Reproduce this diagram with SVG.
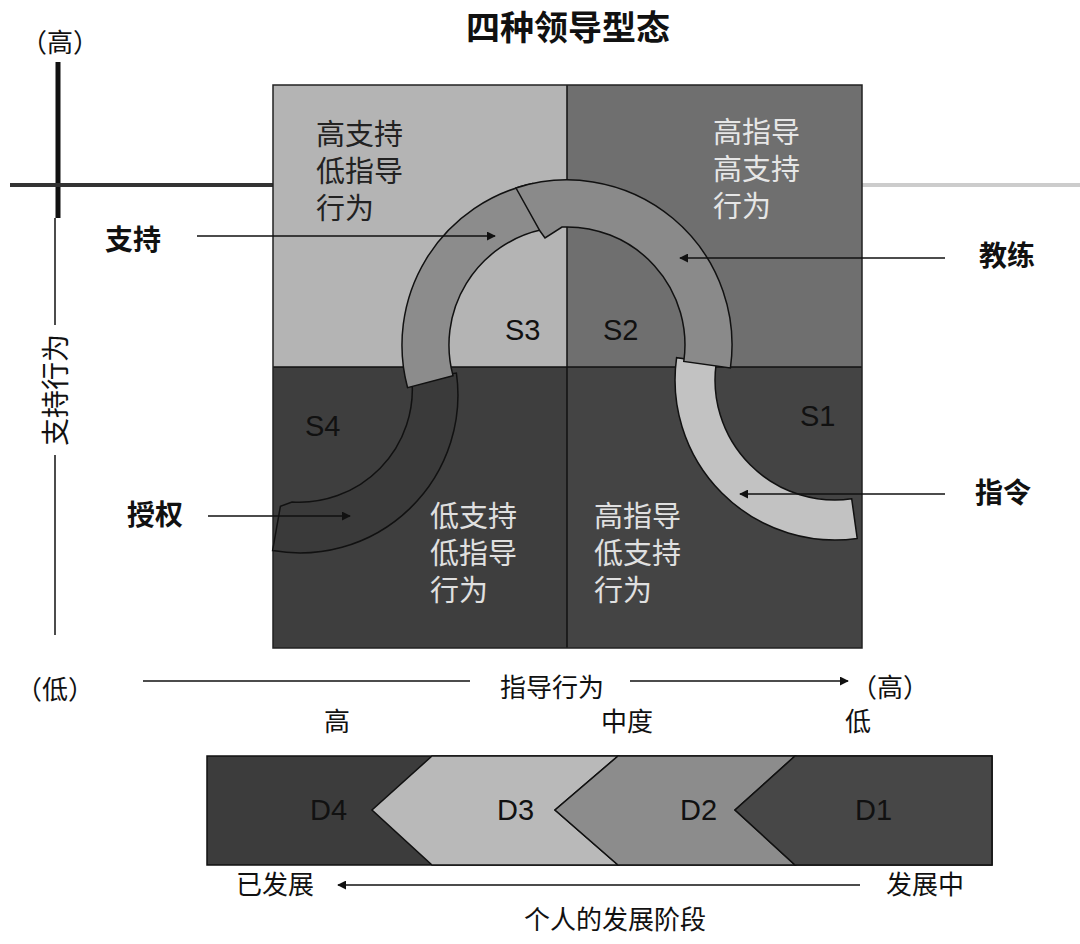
<svg xmlns="http://www.w3.org/2000/svg" width="1080" height="944" viewBox="0 0 1080 944">
<defs>
<marker id="ah" viewBox="0 0 10 10" refX="9" refY="5" markerWidth="9" markerHeight="9" markerUnits="userSpaceOnUse" orient="auto"><path d="M0,0L10,5L0,10Z" fill="#111"/></marker>
<style>
.cj{font-family:"Noto Sans CJK SC","Noto Sans",sans-serif}
.lb{font-family:"Noto Sans CJK SC",sans-serif;font-size:28px;font-weight:bold;fill:#111}
.vt{font-family:"Noto Sans CJK SC",sans-serif;font-size:28px;fill:#111}
.q{font-family:"Noto Sans CJK SC",sans-serif;font-size:29px}
.s{font-family:"Liberation Sans",Arial,sans-serif;font-size:29px;fill:#111}
.ax{font-family:"Noto Sans CJK SC",sans-serif;font-size:26px;fill:#111}
.ln{stroke:#111;stroke-width:1.5;fill:none}
.arc{stroke:#111;stroke-width:1.5}
</style>
</defs>
<rect width="1080" height="944" fill="#fff"/>
<text x="568" y="40" text-anchor="middle" class="cj" font-size="34" font-weight="bold" fill="#111">四种领导型态</text>
<text x="60" y="52" text-anchor="middle" class="ax" font-size="22">（高）</text>
<g id="axes">
<line x1="58" y1="62" x2="58" y2="218" stroke="#111" stroke-width="5"/>
<line x1="10" y1="185" x2="273" y2="185" stroke="#333" stroke-width="4"/>
<line x1="862" y1="185" x2="1080" y2="185" stroke="#ccc" stroke-width="4"/>
<line x1="55" y1="218" x2="55" y2="635" stroke="#111" stroke-width="1.5"/>
<rect x="38" y="325" width="34" height="130" fill="#fff"/>
<text transform="translate(66,390) rotate(-90)" text-anchor="middle" class="vt">支持行为</text>
</g>
<g id="quadrants">
<rect x="273" y="85" width="294" height="282" fill="#b4b4b4"/>
<rect x="567" y="85" width="295" height="282" fill="#6f6f6f"/>
<rect x="273" y="367" width="294" height="281" fill="#3e3e3e"/>
<rect x="567" y="367" width="295" height="281" fill="#444"/>
<line x1="567" y1="85" x2="567" y2="648" stroke="#111" stroke-width="1.5"/>
<line x1="273" y1="367" x2="862" y2="367" stroke="#111" stroke-width="1.5"/>
<rect x="273" y="85" width="589" height="563" fill="none" stroke="#222" stroke-width="1.5"/>
</g>
<g id="S4arc"><path class="arc" fill="#3a3a3a" d="M456.4,373 A158,158 0 0 1 272.6,550.6 L280.4,506.3 L292,502 A113,113 0 0 0 411.9,379.3 Z"/></g>
<g id="S1arc"><path class="arc" fill="#c2c2c2" d="M676.6,357.7 A160,160 0 0 0 857.2,538.4 L851.7,498.8 A120,120 0 0 1 716.2,363.3 Z"/></g>
<g id="S3arc"><path class="arc" fill="#8c8c8c" d="M407.6,387.7 A165,165 0 0 1 532.7,183.6 L542.5,229.6 A118,118 0 0 0 453,375.6 Z"/></g>
<g id="S2arc"><path class="arc" fill="#8a8a8a" d="M516,188 A165,165 0 0 1 730.4,368 L683.8,361.4 A118,118 0 0 0 562,227 L545,238 L540,231 Z"/></g>
<g id="qtext">
<text class="q" fill="#222"><tspan x="316" y="145">高支持</tspan><tspan x="316" y="182">低指导</tspan><tspan x="316" y="219">行为</tspan></text>
<text class="q" fill="#e6e6e6"><tspan x="713" y="143">高指导</tspan><tspan x="713" y="180">高支持</tspan><tspan x="713" y="217">行为</tspan></text>
<text class="q" fill="#e0e0e0"><tspan x="430" y="527">低支持</tspan><tspan x="430" y="564">低指导</tspan><tspan x="430" y="601">行为</tspan></text>
<text class="q" fill="#e0e0e0"><tspan x="594" y="527">高指导</tspan><tspan x="594" y="564">低支持</tspan><tspan x="594" y="601">行为</tspan></text>
<text class="s" x="505" y="340">S3</text>
<text class="s" x="603" y="340">S2</text>
<text class="s" x="305" y="436">S4</text>
<text class="s" x="800" y="426">S1</text>
</g>
<g id="connectors">
<line class="ln" x1="197" y1="236" x2="495" y2="236" marker-end="url(#ah)"/>
<line class="ln" x1="945" y1="258" x2="680" y2="258" marker-end="url(#ah)"/>
<line class="ln" x1="208" y1="516" x2="350" y2="516" marker-end="url(#ah)"/>
<line class="ln" x1="945" y1="494" x2="740" y2="494" marker-end="url(#ah)"/>
<line class="ln" x1="143" y1="681" x2="470" y2="681"/>
<line class="ln" x1="630" y1="681" x2="848" y2="681" marker-end="url(#ah)"/>
<line class="ln" x1="860" y1="885" x2="338" y2="885" marker-end="url(#ah)"/>
</g>
<g id="labels">
<text class="lb" x="133" y="250" text-anchor="middle">支持</text>
<text class="lb" x="1007" y="266" text-anchor="middle">教练</text>
<text class="lb" x="155" y="525" text-anchor="middle">授权</text>
<text class="lb" x="1003" y="503" text-anchor="middle">指令</text>
<text class="ax" x="55" y="699" text-anchor="middle">（低）</text>
<text class="ax" x="552" y="697" text-anchor="middle">指导行为</text>
<text class="ax" x="890" y="697" text-anchor="middle">（高）</text>
<text class="ax" x="337" y="731" text-anchor="middle">高</text>
<text class="ax" x="627" y="731" text-anchor="middle">中度</text>
<text class="ax" x="858" y="731" text-anchor="middle">低</text>
<text class="ax" x="275" y="894" text-anchor="middle">已发展</text>
<text class="ax" x="925" y="894" text-anchor="middle">发展中</text>
<text class="ax" x="615" y="929" text-anchor="middle">个人的发展阶段</text>
</g>
<g id="devbar">
<rect x="207" y="756" width="785" height="109" fill="#3c3c3c" stroke="#111" stroke-width="1.5"/>
<path d="M432,756 L618,756 L555,810 L618,865 L432,865 L372,810 Z" fill="#b9b9b9" stroke="#111" stroke-width="1.5"/>
<path d="M618,756 L795,756 L735,810 L795,865 L618,865 L555,810 Z" fill="#8c8c8c" stroke="#111" stroke-width="1.5"/>
<path d="M795,756 L992,756 L992,865 L795,865 L735,810 Z" fill="#474747" stroke="#111" stroke-width="1.5"/>
<text class="s" x="310" y="820">D4</text>
<text class="s" x="497" y="820">D3</text>
<text class="s" x="680" y="820">D2</text>
<text class="s" x="855" y="820">D1</text>
</g>
</svg>
